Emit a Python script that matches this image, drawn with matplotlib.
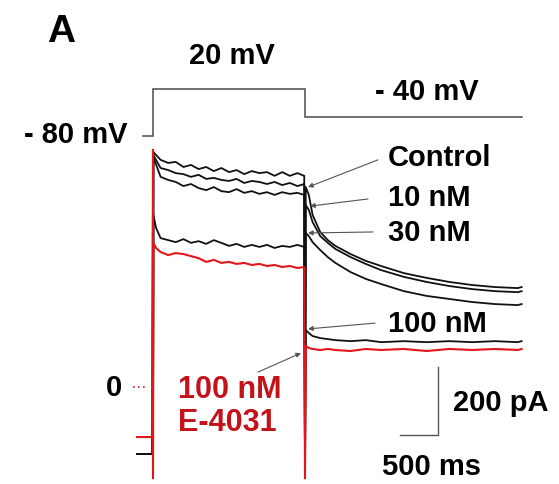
import matplotlib
matplotlib.use("Agg")
import matplotlib.pyplot as plt

plt.rcParams['font.family'] = ['Liberation Sans', 'DejaVu Sans']

# ---------------- data ----------------
# voltage protocol (ms, mV)
v_t = [-130, 0, 0, 2000, 2000, 4850]
v_mv = [-80, -80, 20, 20, -40, -40]

# holding segment before the step (ms)
hold_t = [-210, -6]
hold_red_pA = -147
hold_black_pA = -197

# capacitive transient extremes (pA)
spike_max_pA = 697
spike_min_pA = -268

# step segment (+20 mV), ms
step_t = [5, 100, 200, 300, 400, 500, 600, 700, 800, 900, 1000,
          1100, 1200, 1300, 1400, 1500, 1600, 1700, 1800, 1900, 1990]
control_step = [691, 668, 659, 662, 647, 653, 641, 647, 635, 644, 632,
                638, 626, 635, 629, 632, 621, 632, 621, 629, 621]
nm10_step = [682, 644, 638, 629, 626, 618, 624, 612, 615, 609, 606,
             612, 600, 606, 603, 597, 603, 594, 600, 591, 597]
nm30_step = [676, 618, 609, 603, 591, 597, 585, 579, 588, 576, 573,
             582, 571, 576, 568, 573, 565, 573, 568, 571, 565]
step_t_b = [5, 40, 100, 200, 300, 400, 500, 600, 700, 800, 900, 1000,
            1100, 1200, 1300, 1400, 1500, 1600, 1700, 1800, 1900, 1990]
nm100_step = [506, 468, 438, 432, 426, 435, 424, 429, 421, 432, 424, 415,
              421, 412, 418, 412, 418, 409, 415, 412, 418, 412]
e4031_step = [424, 409, 397, 388, 394, 391, 385, 379, 368, 374, 365, 368,
              362, 365, 359, 362, 356, 359, 353, 356, 350, 353]

# tail segment (-40 mV), ms
tail_t = [2010, 2050, 2100, 2200, 2300, 2400, 2600, 2800, 3000, 3300,
          3600, 3900, 4200, 4500, 4800, 4850]
control_tail = [588, 565, 506, 456, 432, 415, 391, 371, 356, 335,
                321, 309, 300, 294, 291, 294]
nm10_tail = [535, 521, 485, 444, 424, 406, 382, 362, 344, 324,
             309, 297, 288, 282, 279, 282]
nm30_tail = [453, 444, 426, 403, 382, 365, 338, 318, 303, 282,
             268, 259, 250, 244, 241, 244]
nm100_tail = [168, 159, 150, 144, 141, 138, 135, 138, 132, 135,
              132, 135, 132, 135, 132, 135]
e4031_tail = [121, 115, 112, 109, 112, 109, 106, 112, 109, 112,
              106, 112, 109, 112, 109, 112]

labels = ["Control", "10 nM", "30 nM", "100 nM"]

# ---------------- figure ----------------
W, H = 559, 484
fig = plt.figure(figsize=(W / 100, H / 100), dpi=100)

def fx(x):
    return x / W

def fy(y):
    return 1 - y / H

# current axes (ms, pA)
ax = fig.add_axes([0, 0, 1, 1])
ax.set_xlim(-2013, 5342)
ax.set_ylim(-285, 1138)
ax.axis('off')

# voltage axes (ms, mV)
axv = fig.add_axes([0, 0, 1, 1])
axv.set_xlim(-2013, 5342)
axv.set_ylim(-814, 207)
axv.axis('off')
axv.patch.set_alpha(0)

grey = '#4a4a4a'
red = '#e3161b'
dred = '#c3121a'

axv.plot(v_t, v_mv, color=grey, lw=1.1, solid_joinstyle='miter')


def build(hold, step_times, step_vals, tail_vals):
    t = hold_t + [0, 0] + step_times + [2000] + tail_t
    i = [hold, hold, spike_max_pA, spike_min_pA] + step_vals + [spike_min_pA] + tail_vals
    return t, i

black_sets = [(step_t, control_step, control_tail),
              (step_t, nm10_step, nm10_tail),
              (step_t, nm30_step, nm30_tail),
              (step_t_b, nm100_step, nm100_tail)]
for st, sv, tv in black_sets:
    t, i = build(hold_black_pA, st, sv, tv)
    ax.plot(t, i, color='#111111', lw=1.3, solid_joinstyle='round')

t, i = build(hold_red_pA, step_t_b, e4031_step, e4031_tail)
ax.plot(t, i, color=red, lw=1.5, solid_joinstyle='round')

# zero reference
ax.plot([-263, -66], [0, 0], color=red, lw=1.2, ls=(0, (1, 2)))

# scale bar: 500 ms x 200 pA
ax.plot([3250, 3750, 3750], [-140, -140, 60], color='#555555', lw=1.0)

# ---------------- texts ----------------
fs = 21
bold = dict(fontweight='bold', color='black')
fig.text(fx(61), fy(32), "A", fontsize=28, ha='center', va='center', **bold)
fig.text(fx(232), fy(56), "20 mV", fontsize=fs, ha='center', va='center', **bold)
fig.text(fx(427), fy(92), "- 40 mV", fontsize=fs, ha='center', va='center', **bold)
fig.text(fx(127), fy(135), "- 80 mV", fontsize=fs, ha='right', va='center', **bold)

fig.text(fx(122), fy(388), "0", fontsize=fs, ha='right', va='center', **bold)
fig.text(fx(178), fy(390), "100 nM", fontsize=22, ha='left', va='center',
         fontweight='bold', color=dred)
fig.text(fx(178), fy(423), "E-4031", fontsize=22, ha='left', va='center',
         fontweight='bold', color=dred)
fig.text(fx(453), fy(403), "200 pA", fontsize=fs, ha='left', va='center', **bold)
fig.text(fx(431), fy(467), "500 ms", fontsize=fs, ha='center', va='center', **bold)

label_pos = [(388, 158), (388, 198), (388, 233), (388, 324)]
for lab, (x, y) in zip(labels, label_pos):
    fig.text(fx(x), fy(y), lab, fontsize=fs, ha='left', va='center', **bold)

arrow_kw = dict(arrowstyle='-|>', color='#555555', lw=0.8, mutation_scale=7,
                shrinkA=0, shrinkB=0)
arrows = [((2960, 668), (2040, 588)),
          ((2829, 553), (2066, 532)),
          ((2895, 456), (2040, 453)),
          ((2921, 188), (2040, 171)),
          ((1382, 44), (1947, 100))]
for start, end in arrows:
    ax.annotate("", xy=end, xytext=start, arrowprops=arrow_kw)

fig.savefig("out.png", dpi=100)
